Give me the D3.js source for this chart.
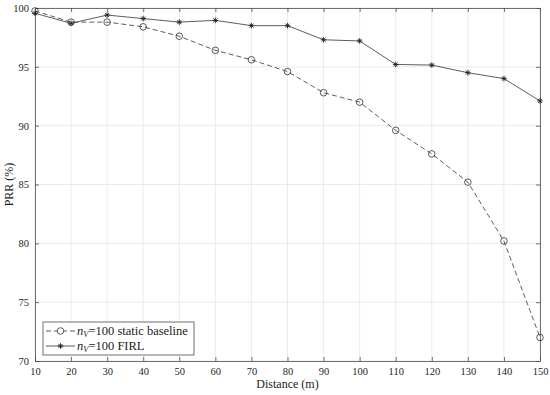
<!DOCTYPE html>
<html>
<head>
<meta charset="utf-8">
<script src="https://cdn.jsdelivr.net/npm/d3@7"></script>
<style>
body { margin: 0; background: #fff; }
text { font-family: "Liberation Serif", "DejaVu Serif", serif; fill: #222; }
</style>
</head>
<body>
<script>
// distances (m)
var distances = [10, 20, 30, 40, 50, 60, 70, 80, 90, 100, 110, 120, 130, 140, 150];
// PRR values
var staticBaseline = [99.75, 98.8, 98.8, 98.4, 97.6, 96.4, 95.6, 94.6, 92.8, 92.0, 89.6, 87.6, 85.2, 80.2, 72.0];
var firl = [99.55, 98.7, 99.4, 99.1, 98.8, 98.95, 98.5, 98.5, 97.3, 97.2, 95.2, 95.15, 94.5, 94.0, 92.1];
var xTicks = [10, 20, 30, 40, 50, 60, 70, 80, 90, 100, 110, 120, 130, 140, 150];
var yTicks = [70, 75, 80, 85, 90, 95, 100];

var W = 550, H = 395;
var mLeft = 35, mRight = 540, mTop = 8, mBottom = 361;

var svg = d3.select("body").append("svg")
  .attr("width", W)
  .attr("height", H);

var x = d3.scaleLinear().domain([10, 150]).range([mLeft, mRight]);
var y = d3.scaleLinear().domain([70, 100]).range([mBottom, mTop]);

// grid
svg.append("g").selectAll("line").data(xTicks).enter().append("line")
  .attr("x1", function(d) { return x(d); }).attr("x2", function(d) { return x(d); })
  .attr("y1", mTop).attr("y2", mBottom)
  .style("stroke", "#e6e6e6").style("stroke-width", 0.8);
svg.append("g").selectAll("line").data(yTicks).enter().append("line")
  .attr("y1", function(d) { return y(d); }).attr("y2", function(d) { return y(d); })
  .attr("x1", mLeft).attr("x2", mRight)
  .style("stroke", "#e6e6e6").style("stroke-width", 0.8);

// axes (ticks inward, box style)
function styleAxis(g) {
  g.select(".domain").style("stroke", "#4d4d4d").style("stroke-width", 0.8);
  g.selectAll(".tick line").style("stroke", "#4d4d4d").style("stroke-width", 0.8);
  g.selectAll("text").style("font-size", "10.5px").style("fill", "#262626")
    .style("font-family", "'Liberation Serif', 'DejaVu Serif', serif");
}
var xAxis = svg.append("g").attr("transform", "translate(0," + mBottom + ")")
  .call(d3.axisBottom(x).tickValues(xTicks).tickSizeInner(-4).tickSizeOuter(0).tickPadding(7));
styleAxis(xAxis);
var xAxisTop = svg.append("g").attr("transform", "translate(0," + mTop + ")")
  .call(d3.axisTop(x).tickValues(xTicks).tickSizeInner(-4).tickSizeOuter(0).tickFormat(""));
styleAxis(xAxisTop);
var yAxis = svg.append("g").attr("transform", "translate(" + mLeft + ",0)")
  .call(d3.axisLeft(y).tickValues(yTicks).tickSizeInner(-4).tickSizeOuter(0).tickPadding(6));
styleAxis(yAxis);
var yAxisRight = svg.append("g").attr("transform", "translate(" + mRight + ",0)")
  .call(d3.axisRight(y).tickValues(yTicks).tickSizeInner(-4).tickSizeOuter(0).tickFormat(""));
styleAxis(yAxisRight);

// axis labels
svg.append("text")
  .attr("x", (mLeft + mRight) / 2).attr("y", 388)
  .attr("text-anchor", "middle").style("font-size", "12px")
  .text("Distance (m)");
svg.append("text")
  .attr("transform", "translate(13," + ((mTop + mBottom) / 2) + ") rotate(-90)")
  .attr("text-anchor", "middle").style("font-size", "12px")
  .text("PRR (%)");

var line = d3.line()
  .x(function(d, i) { return x(distances[i]); })
  .y(function(d) { return y(d); });

// static baseline, dashed with circles
svg.append("path").datum(staticBaseline)
  .attr("d", line)
  .style("fill", "none").style("stroke", "#333").style("stroke-width", 0.8)
  .style("stroke-dasharray", "5,3");
svg.selectAll(".circ").data(staticBaseline).enter().append("circle")
  .attr("class", "circ")
  .attr("cx", function(d, i) { return x(distances[i]); })
  .attr("cy", function(d) { return y(d); })
  .attr("r", 3.3)
  .style("fill", "none").style("stroke", "#333").style("stroke-width", 0.8);

// FIRL, solid with asterisks
svg.append("path").datum(firl)
  .attr("d", line)
  .style("fill", "none").style("stroke", "#333").style("stroke-width", 0.8);

function star(g, cx, cy) {
  var s = 2.8;
  var angles = [0, 45, 90, 135];
  angles.forEach(function(a) {
    var r = a * Math.PI / 180;
    g.append("line")
      .attr("x1", cx - s * Math.cos(r)).attr("y1", cy - s * Math.sin(r))
      .attr("x2", cx + s * Math.cos(r)).attr("y2", cy + s * Math.sin(r))
      .style("stroke", "#222").style("stroke-width", 0.9);
  });
}
var stars = svg.append("g");
firl.forEach(function(d, i) { star(stars, x(distances[i]), y(d)); });

// legend
var lg = svg.append("g");
lg.append("rect")
  .attr("x", 43).attr("y", 322).attr("width", 151).attr("height", 33)
  .style("fill", "#fff").style("stroke", "#4d4d4d").style("stroke-width", 0.8);
lg.append("line").attr("x1", 46).attr("x2", 75).attr("y1", 331).attr("y2", 331)
  .style("stroke", "#333").style("stroke-width", 0.8).style("stroke-dasharray", "5,3");
lg.append("circle").attr("cx", 60.5).attr("cy", 331).attr("r", 3.3)
  .style("fill", "#fff").style("stroke", "#333").style("stroke-width", 0.8);
lg.append("line").attr("x1", 46).attr("x2", 75).attr("y1", 346).attr("y2", 346)
  .style("stroke", "#333").style("stroke-width", 0.8);
star(lg, 60.5, 346);

var t1 = lg.append("text").attr("x", 77).attr("y", 335).style("font-size", "12.5px");
t1.append("tspan").style("font-style", "italic").text("n");
t1.append("tspan").style("font-style", "italic").style("font-size", "8.5px").attr("dy", 2).text("V");
t1.append("tspan").attr("dy", -2).text("=100 static baseline");
var t2 = lg.append("text").attr("x", 77).attr("y", 350).style("font-size", "12.5px");
t2.append("tspan").style("font-style", "italic").text("n");
t2.append("tspan").style("font-style", "italic").style("font-size", "8.5px").attr("dy", 2).text("V");
t2.append("tspan").attr("dy", -2).text("=100 FIRL");
</script>
</body>
</html>
